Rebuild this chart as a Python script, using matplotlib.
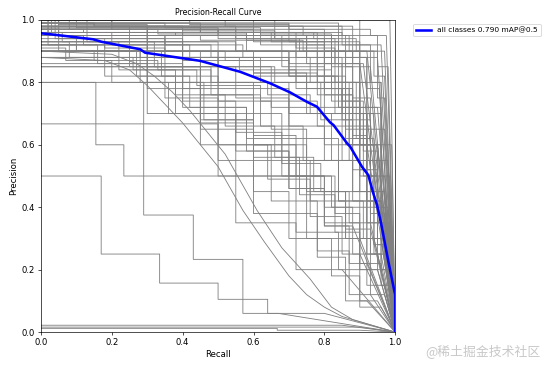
import matplotlib
matplotlib.use("Agg")
import matplotlib.pyplot as plt

# per-class PR curves: recall where each precision step ends, precision level of the step
class_recall = [
    [0.985],
    [0.42, 0.7, 0.93, 0.975],
    [0.2, 0.55, 0.85, 0.96],
    [0.1, 0.45, 0.78, 0.9, 0.95],
    [0.35, 0.62, 0.82, 0.92],
    [0.05, 0.3, 0.6, 0.87, 0.94, 0.97],
    [0.25, 0.5, 0.75, 0.88, 0.91],
    [0.15, 0.4, 0.66, 0.8, 0.9, 0.96],
    [0.6, 0.85, 0.95, 0.98],
    [0.08, 0.33, 0.58, 0.74, 0.86, 0.93],
    [0.5, 0.77, 0.89, 0.95, 0.97],
    [0.12, 0.38, 0.7, 0.84, 0.92, 0.955],
    [0.9, 0.97],
    [0.03, 0.2, 0.45, 0.72, 0.83, 0.9],
    [0.02, 0.12, 0.3, 0.52, 0.7, 0.84, 0.92, 0.96],
    [0.06, 0.22, 0.4, 0.6, 0.78, 0.88, 0.94],
    [0.1, 0.28, 0.5, 0.66, 0.8, 0.9, 0.95],
    [0.04, 0.18, 0.35, 0.56, 0.72, 0.85, 0.93, 0.97],
    [0.15, 0.33, 0.48, 0.64, 0.76, 0.86, 0.92],
    [0.3, 0.55, 0.7, 0.82, 0.9, 0.96, 0.98],
    [0.08, 0.26, 0.44, 0.62, 0.78, 0.87, 0.94],
    [0.2, 0.42, 0.6, 0.75, 0.85, 0.92, 0.96],
    [0.02, 0.16, 0.3, 0.45, 0.6, 0.72, 0.82, 0.9, 0.94],
    [0.05, 0.22, 0.38, 0.52, 0.66, 0.77, 0.86, 0.93],
    [0.1, 0.27, 0.42, 0.58, 0.7, 0.8, 0.88, 0.95],
    [0.13, 0.32, 0.48, 0.62, 0.74, 0.84, 0.91, 0.96],
    [0.25, 0.4, 0.55, 0.68, 0.79, 0.87, 0.93],
    [0.07, 0.2, 0.36, 0.5, 0.64, 0.76, 0.85, 0.9],
    [0.34, 0.5, 0.65, 0.75, 0.84, 0.92, 0.97],
    [0.18, 0.38, 0.55, 0.7, 0.8, 0.88],
    [0.45, 0.6, 0.72, 0.83, 0.9, 0.96],
    [0.28, 0.46, 0.6, 0.73, 0.83, 0.9, 0.95],
    [0.55, 0.7, 0.8, 0.88, 0.94, 0.98],
    [0.4, 0.58, 0.7, 0.8, 0.87, 0.92],
    [0.17, 0.335, 0.5, 0.64, 0.8],
    [0.155, 0.234, 0.55, 0.72, 0.85],
    [0.29, 0.43, 0.57, 0.67],
    [0.5, 0.75, 0.9],
    [0.85],
    [0.667, 0.9],
    [0.9],
    [0.35, 0.6, 0.75, 0.85, 0.92, 0.96, 0.99],
    [0.5, 0.7, 0.82, 0.9, 0.95, 0.98],
    [0.65, 0.8, 0.88, 0.94, 0.97],
    [0.4, 0.7, 0.84, 0.92, 0.96],
    [0.3, 0.45, 0.6, 0.76, 0.86, 0.93, 0.97],
    [0.4, 0.6, 0.75, 0.86, 0.92, 0.97],
    [0.5, 0.68, 0.8, 0.9, 0.95],
    [0.05, 0.4, 0.7, 0.82, 0.9, 0.95],
    [0.55, 0.78, 0.9, 0.97],
    [0.7, 0.82, 0.88, 0.92, 0.95, 0.97],
    [0.6, 0.78, 0.86, 0.9, 0.93, 0.96],
    [0.8, 0.88, 0.93, 0.96, 0.98],
    [0.45, 0.72, 0.84, 0.9, 0.94],
    [0.55, 0.75, 0.85, 0.91, 0.95, 0.98],
    [0.66, 0.83, 0.9, 0.94, 0.97],
    [0.3, 0.62, 0.8, 0.89, 0.93, 0.96],
    [0.75, 0.85, 0.91, 0.95, 0.975],
    [0.4, 0.68, 0.82, 0.88, 0.92, 0.95, 0.97],
    [0.84, 0.9, 0.94, 0.97],
    [0.2, 0.5, 0.73, 0.86, 0.92, 0.96, 0.985],
    [0.58, 0.8, 0.87, 0.92, 0.96],
    [0.88, 0.93, 0.96, 0.99],
    [0.35, 0.57, 0.76, 0.87, 0.93, 0.97],
    [0.48, 0.7, 0.83, 0.9, 0.95, 0.98],
    [0.25, 0.5, 0.68, 0.8, 0.88, 0.93, 0.97],
    [0.62, 0.79, 0.88, 0.93, 0.97],
    [0.72, 0.86, 0.92, 0.96, 0.99],
    [0.15, 0.45, 0.65, 0.8, 0.9, 0.95],
    [0.52, 0.74, 0.86, 0.92, 0.96, 0.985],
    [0.3, 0.55, 0.72, 0.84, 0.9, 0.95],
    [0.3, 0.45, 0.65, 0.78, 0.87, 0.93],
    [0.35, 0.5, 0.6, 0.78, 0.86, 0.92],
    [0.45, 0.6, 0.7, 0.82, 0.9, 0.96],
]
class_precision = [
    [1.0],
    [1.0, 0.985, 0.97, 0.95],
    [1.0, 0.98, 0.96, 0.92],
    [1.0, 0.975, 0.96, 0.93, 0.88],
    [0.99, 0.975, 0.955, 0.9],
    [1.0, 0.985, 0.97, 0.95, 0.9, 0.82],
    [0.98, 0.97, 0.95, 0.92, 0.86],
    [0.99, 0.98, 0.965, 0.94, 0.9, 0.8],
    [1.0, 0.98, 0.95, 0.85],
    [1.0, 0.97, 0.955, 0.935, 0.9, 0.85],
    [0.975, 0.96, 0.94, 0.9, 0.75],
    [0.97, 0.96, 0.95, 0.93, 0.88, 0.78],
    [1.0, 0.9],
    [1.0, 0.96, 0.95, 0.935, 0.91, 0.86],
    [1.0, 0.95, 0.92, 0.9, 0.87, 0.82, 0.72, 0.55],
    [0.96, 0.93, 0.9, 0.87, 0.83, 0.76, 0.62],
    [0.92, 0.9, 0.88, 0.85, 0.8, 0.72, 0.6],
    [1.0, 0.94, 0.91, 0.88, 0.84, 0.78, 0.68, 0.5],
    [0.9, 0.87, 0.84, 0.8, 0.76, 0.7, 0.6],
    [0.97, 0.93, 0.9, 0.86, 0.8, 0.7, 0.55],
    [0.93, 0.88, 0.84, 0.79, 0.74, 0.66, 0.55],
    [0.95, 0.92, 0.88, 0.83, 0.78, 0.7, 0.6],
    [1.0, 0.92, 0.86, 0.78, 0.68, 0.6, 0.5, 0.4, 0.3],
    [0.97, 0.9, 0.84, 0.76, 0.66, 0.56, 0.45, 0.33],
    [0.95, 0.9, 0.82, 0.72, 0.62, 0.5, 0.4, 0.25],
    [1.0, 0.93, 0.85, 0.76, 0.66, 0.55, 0.42, 0.3],
    [0.93, 0.85, 0.74, 0.64, 0.54, 0.45, 0.35],
    [0.91, 0.87, 0.8, 0.7, 0.6, 0.49, 0.37, 0.25],
    [0.9, 0.82, 0.74, 0.65, 0.55, 0.42, 0.25],
    [0.92, 0.82, 0.7, 0.58, 0.46, 0.34],
    [0.88, 0.76, 0.63, 0.5, 0.38, 0.22],
    [0.9, 0.8, 0.68, 0.56, 0.44, 0.32, 0.2],
    [0.85, 0.75, 0.66, 0.55, 0.42, 0.28],
    [0.86, 0.72, 0.58, 0.46, 0.34, 0.22],
    [0.5, 0.25, 0.157, 0.105, 0.06],
    [0.8, 0.6, 0.5, 0.35, 0.2],
    [0.8, 0.375, 0.233, 0.06],
    [0.667, 0.5, 0.3],
    [0.022],
    [0.012, 0.006],
    [0.016],
    [0.95, 0.9, 0.82, 0.7, 0.55, 0.35, 0.15],
    [0.9, 0.8, 0.7, 0.55, 0.4, 0.2],
    [0.85, 0.72, 0.6, 0.45, 0.25],
    [0.96, 0.78, 0.62, 0.45, 0.3],
    [0.97, 0.85, 0.67, 0.55, 0.42, 0.3, 0.12],
    [0.93, 0.8, 0.6, 0.45, 0.3, 0.15],
    [0.9, 0.7, 0.5, 0.35, 0.2],
    [1.0, 0.94, 0.9, 0.84, 0.74, 0.6],
    [0.95, 0.9, 0.8, 0.65],
    [0.99, 0.95, 0.85, 0.7, 0.5, 0.3],
    [0.98, 0.93, 0.82, 0.65, 0.45, 0.25],
    [0.97, 0.9, 0.75, 0.55, 0.35],
    [0.99, 0.96, 0.88, 0.72, 0.5],
    [0.97, 0.94, 0.86, 0.74, 0.58, 0.4],
    [1.0, 0.94, 0.8, 0.6, 0.4],
    [0.98, 0.96, 0.92, 0.8, 0.62, 0.42],
    [0.95, 0.88, 0.7, 0.5, 0.3],
    [0.97, 0.95, 0.9, 0.78, 0.63, 0.45, 0.28],
    [0.99, 0.9, 0.7, 0.45],
    [1.0, 0.97, 0.94, 0.9, 0.8, 0.6, 0.35],
    [0.96, 0.9, 0.78, 0.6, 0.42],
    [0.98, 0.92, 0.8, 0.6],
    [0.94, 0.92, 0.88, 0.8, 0.66, 0.45],
    [0.92, 0.88, 0.82, 0.7, 0.52, 0.3],
    [0.97, 0.93, 0.9, 0.85, 0.76, 0.6, 0.38],
    [0.88, 0.8, 0.68, 0.52, 0.35],
    [0.9, 0.8, 0.62, 0.42, 0.2],
    [0.99, 0.98, 0.96, 0.93, 0.86, 0.72],
    [1.0, 0.98, 0.95, 0.88, 0.72, 0.5],
    [0.9, 0.7, 0.5, 0.32, 0.2, 0.1],
    [0.96, 0.8, 0.6, 0.42, 0.26, 0.12],
    [0.95, 0.75, 0.55, 0.38, 0.24, 0.1],
    [0.9, 0.65, 0.45, 0.3, 0.18, 0.08],
]

# two classes with many instances give almost smooth curves
smooth_recall = [
    [0.0, 0.18, 0.25, 0.3, 0.35, 0.4, 0.45, 0.5, 0.57, 0.63, 0.7, 0.75, 0.8, 0.85, 1.0],
    [0.0, 0.2, 0.27, 0.32, 0.37, 0.42, 0.47, 0.52, 0.56, 0.61, 0.68, 0.76, 0.82, 0.88, 1.0],
]
smooth_precision = [
    [0.88, 0.87, 0.84, 0.79, 0.73, 0.67, 0.6, 0.53, 0.39, 0.29, 0.18, 0.12, 0.08, 0.05, 0.0],
    [0.9, 0.89, 0.86, 0.82, 0.77, 0.71, 0.64, 0.57, 0.49, 0.39, 0.27, 0.17, 0.08, 0.04, 0.0],
]

# mean over all classes
all_recall = [0.0, 0.02, 0.147, 0.171, 0.28, 0.294, 0.449, 0.562, 0.647, 0.703, 0.75, 0.779,
              0.816, 0.826, 0.864, 0.873, 0.906, 0.924, 0.938, 0.948, 0.958, 0.962, 0.98,
              0.997, 1.0, 1.0]
all_precision = [0.957, 0.955, 0.938, 0.93, 0.906, 0.895, 0.869, 0.834, 0.797, 0.768, 0.738,
                 0.722, 0.672, 0.663, 0.605, 0.594, 0.53, 0.503, 0.445, 0.41, 0.36, 0.338,
                 0.23, 0.135, 0.12, 0.0]
map50 = 0.790


def pr_steps(rec, prec):
    x, y = [0.0], [prec[0]]
    for i in range(len(rec)):
        x.append(rec[i])
        y.append(prec[i])
        if i + 1 < len(prec):
            x.append(rec[i])
            y.append(prec[i + 1])
    x.append(1.0)
    y.append(0.0)
    return x, y


fig, ax = plt.subplots(1, 1, figsize=(9, 6), dpi=61.5)
fig.subplots_adjust(left=0.074, right=0.714, top=0.946, bottom=0.10)

for rec, prec in zip(class_recall, class_precision):
    x, y = pr_steps(rec, prec)
    ax.plot(x, y, linewidth=1, color='grey')
for rec, prec in zip(smooth_recall, smooth_precision):
    ax.plot(rec, prec, linewidth=1, color='grey')

ax.plot(all_recall, all_precision, linewidth=3, color='blue',
        label='all classes %.3f mAP@0.5' % map50)

ax.set_xlabel('Recall')
ax.set_ylabel('Precision')
ax.set_xlim(0, 1)
ax.set_ylim(0, 1)
ax.legend(bbox_to_anchor=(1.04, 1), loc="upper left", fontsize=8.8)
ax.set_title('Precision-Recall Curve', fontsize=9)

fig.text(0.977, 0.049, '@稀土掘金技术社区', ha='right', va='center', fontsize=15,
         color='#c8c8c8', family=['Noto Sans CJK SC', 'DejaVu Sans'])

fig.savefig('out.png', dpi=61.5)
